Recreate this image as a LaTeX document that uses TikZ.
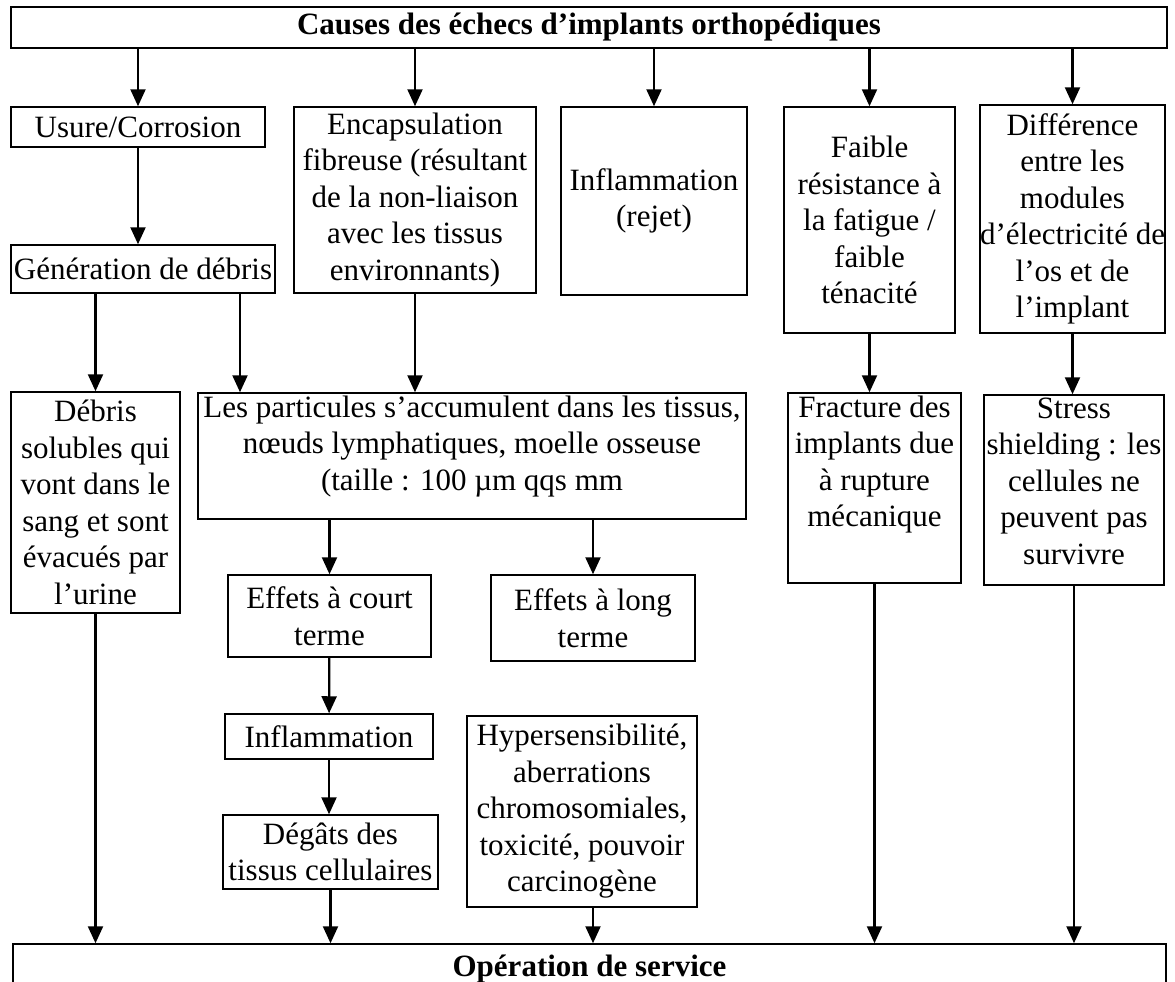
\documentclass[tikz,border=0pt]{standalone}
\usepackage{fontspec}
\setmainfont{Liberation Serif}
\usetikzlibrary{arrows.meta, positioning}
\tikzset{box/.style={draw, line width=1.5pt, rectangle, inner sep=0pt, align=center,
    font=\fontsize{31}{36.5}\selectfont},
  toptext/.style={anchor=north, align=center, font=\fontsize{31}{36.5}\selectfont},
  arr/.style={->, line width=2.2pt}}

\begin{document}
\begin{tikzpicture}[>={Triangle[width=15pt,length=17pt]}, x=1pt, y=-1pt]
    \fill[white] (0,0) rectangle (1175,982);
    \useasboundingbox (0,0) rectangle (1175,982);

    % first row
    \node[box, minimum width=1156pt, minimum height=41pt, font=\fontsize{31}{36.5}\selectfont\bfseries]
      (top) at (589,27.5) {Causes des échecs d’implants orthopédiques};

    \node[box, minimum width=254pt, minimum height=40pt] (usure) at (138,127) {Usure/Corrosion};
    \node[box, minimum width=264pt, minimum height=48pt] (gen) at (143,269) {Génération de débris};
    \node[box, minimum width=242pt, minimum height=186pt] (encap) at (415,200)
      {Encapsulation\\fibreuse (résultant\\de la non-liaison\\avec les tissus\\environnants)};
    \node[box, minimum width=186pt, minimum height=188pt] (infl) at (654,201) {Inflammation\\(rejet)};
    \node[box, minimum width=171pt, minimum height=226pt] (faible) at (869.5,220)
      {Faible\\résistance à\\la fatigue /\\faible\\ténacité};
    \node[box, minimum width=183pt, minimum height=228pt] (diff) at (1072.5,219)
      {Différence\\entre les\\modules\\d’électricité de\\l’os et de\\l’implant};

    % second row
    \node[box, minimum width=169pt, minimum height=221pt] (debris) at (95.5,502.5)
      {Débris\\solubles qui\\vont dans le\\sang et sont\\évacués par\\l’urine};
    \node[box, minimum width=548pt, minimum height=126pt,
      label={[toptext]90:{Les particules s’accumulent dans les tissus,\\nœuds lymphatiques, moelle osseuse\\(taille : 100 µm qqs mm}}
      ] (partic) at (472,456) {};
    \node[box, minimum width=173pt, minimum height=190pt,
      label={[toptext]90:{Fracture des\\implants due\\à rupture\\mécanique}}
      ] (fract) at (874.5,488) {};
    \node[box, minimum width=180pt, minimum height=190pt,
      label={[toptext]90:{Stress\\shielding : les\\cellules ne\\peuvent pas\\survivre}}
      ] (stress) at (1074,490) {};

    % effects
    \node[box, minimum width=203pt, minimum height=82pt] (court) at (329.5,616) {Effets à court\\terme};
    \node[box, minimum width=204pt, minimum height=86pt] (long) at (593,618) {Effets à long\\terme};
    \node[box, minimum width=208pt, minimum height=45pt] (infl2) at (329,736.5) {Inflammation};
    \node[box, minimum width=215pt, minimum height=74pt] (degats) at (330.5,852) {Dégâts des\\tissus cellulaires};
    \node[box, minimum width=230pt, minimum height=191pt] (hyper) at (582,811.5)
      {Hypersensibilité,\\aberrations\\chromosomiales,\\toxicité, pouvoir\\carcinogène};

    \node[box, minimum width=1153pt, minimum height=50pt, font=\fontsize{31}{36.5}\selectfont\bfseries]
      (bottom) at (589.5,969) {Opération de service};

    % arrows
    \draw[arr] (top.south -| usure) -- (usure);
    \draw[arr] (top.south -| encap) -- (encap);
    \draw[arr] (top.south -| infl) -- (infl);
    \draw[arr] (top.south -| faible) -- (faible);
    \draw[arr] (top.south -| diff) -- (diff);

    \draw[arr] (usure) -- (usure |- gen.north);
    \draw[arr] (gen.south -| debris) -- (debris);
    \draw[arr] ([xshift=97pt]gen.south) -- ([xshift=97pt]gen.south |- partic.north);
    \draw[arr] (encap) -- (encap |- partic.north);
    \draw[arr] (faible) -- (faible |- fract.north);
    \draw[arr] (diff) -- (diff |- stress.north);

    \draw[arr] (partic.south -| court) -- (court);
    \draw[arr] (partic.south -| long) -- (long);
    \draw[arr] (court) -- (infl2);
    \draw[arr] (infl2) -- (infl2 |- degats.north);

    \draw[arr] (debris) -- (debris |- bottom.north);
    \draw[arr] (degats) -- (degats |- bottom.north);
    \draw[arr] (long |- hyper.south) -- (long |- bottom.north);
    \draw[arr] (fract) -- (fract |- bottom.north);
    \draw[arr] (stress) -- (stress |- bottom.north);
\end{tikzpicture}
\end{document}
